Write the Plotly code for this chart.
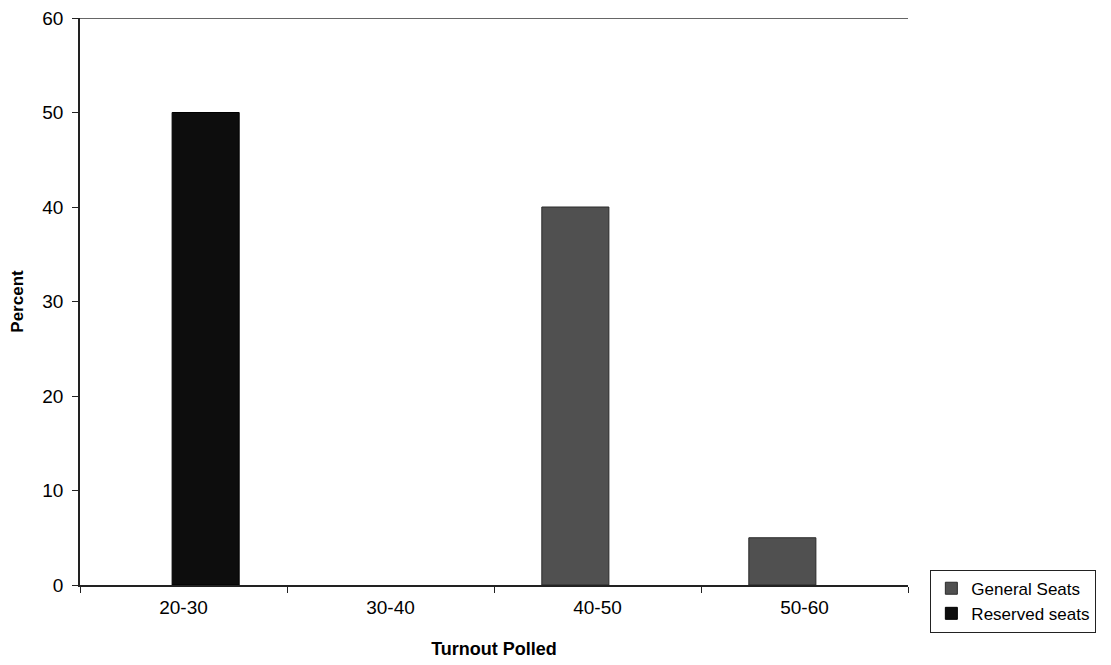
import plotly.graph_objects as go

# Data (None = no bar drawn)
categories = ["20-30", "30-40", "40-50", "50-60"]
general_seats = [None, None, 40, 5]
reserved_seats = [50, None, None, None]
y_ticks = [0, 10, 20, 30, 40, 50, 60]

FONT = "Liberation Sans, Arial, sans-serif"

fig = go.Figure()

# General seats (grey) sits on the left of each group
fig.add_trace(go.Bar(
    x=categories,
    y=general_seats,
    name="General Seats",
    marker=dict(color="#505050", line=dict(color="#2a2a2a", width=1)),
    width=0.324,
    offset=-0.269,
))

# Reserved seats (black) overlaps slightly to the right
fig.add_trace(go.Bar(
    x=categories,
    y=reserved_seats,
    name="Reserved seats",
    marker=dict(color="#0d0d0d", line=dict(color="#000000", width=1)),
    width=0.324,
    offset=-0.055,
))

# top border of the plot area at 60
fig.add_shape(type="line", xref="paper", yref="y", x0=0, x1=1, y0=60, y1=60,
              line=dict(color="#333333", width=1.5))

# page has an 8px body margin, so margins are trimmed to compensate
fig.update_layout(
    width=1111,
    height=665,
    barmode="overlay",
    paper_bgcolor="white",
    plot_bgcolor="white",
    font=dict(family=FONT, size=18, color="black"),
    margin=dict(l=72, r=211, t=10, b=88),
    xaxis=dict(
        type="category",
        automargin=False,
        showline=True,
        linecolor="#222222",
        linewidth=1.5,
        ticks="outside",
        tickson="boundaries",
        ticklen=6,
        tickcolor="#222222",
        showgrid=False,
        ticklabelstandoff=4,
        tickfont=dict(size=19, family=FONT),
        title=dict(text="<b>Turnout Polled</b>", font=dict(size=18, family=FONT), standoff=26),
    ),
    yaxis=dict(
        range=[0, 60],
        automargin=False,
        tickvals=y_ticks,
        showline=True,
        linecolor="#222222",
        linewidth=1.5,
        ticks="outside",
        ticklen=6,
        tickcolor="#222222",
        showgrid=False,
        zeroline=False,
        ticklabelstandoff=5,
        ticklabeloverflow="allow",
        tickfont=dict(size=19, family=FONT),
        title=dict(text="<b>Percent</b>", font=dict(size=17, family=FONT), standoff=22),
    ),
    showlegend=True,
    legend=dict(
        x=1.027,
        y=0.027,
        xanchor="left",
        yanchor="top",
        bordercolor="#222222",
        borderwidth=1,
        bgcolor="white",
        font=dict(size=17, family=FONT),
        traceorder="normal",
        itemwidth=30,
        tracegroupgap=0,
    ),
)

fig.write_html("out.html")
